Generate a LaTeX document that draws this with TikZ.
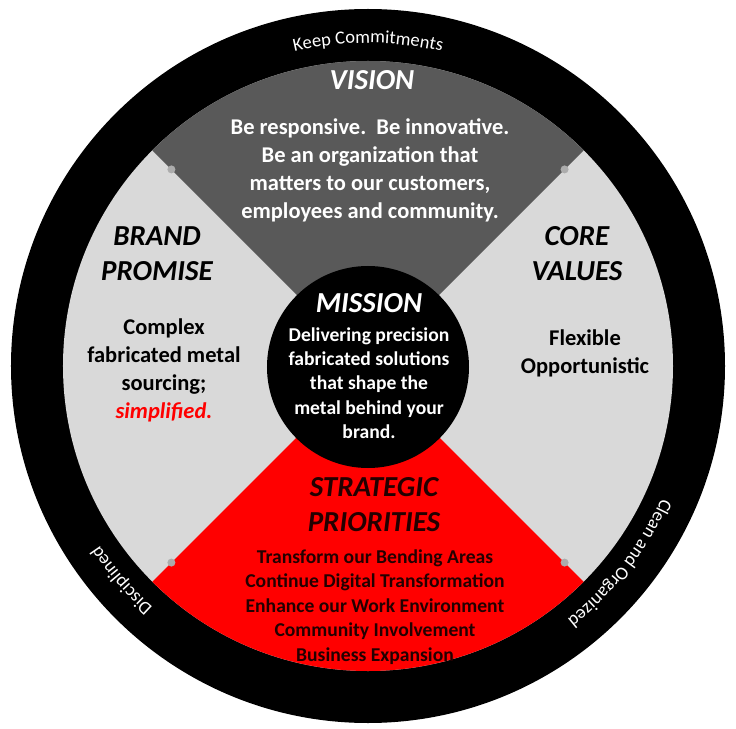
\documentclass[tikz,border=0pt]{standalone}
\usepackage{fontspec}
\setmainfont{Carlito}
\usetikzlibrary{decorations.text}
\definecolor{visiongray}{RGB}{89,89,89}
\definecolor{panelgray}{RGB}{217,217,217}
\definecolor{dotgray}{RGB}{172,172,172}
\definecolor{listdark}{RGB}{35,0,0}
\newcommand{\ringfont}{\fontsize{18.5}{18.5}\selectfont}
\begin{document}
\begin{tikzpicture}[x=1pt,y=1pt,
  heading/.style={font=\fontsize{29}{35}\selectfont\bfseries\itshape,align=center,inner sep=0pt},
  bodytext/.style={font=\fontsize{22.5}{28}\selectfont\bfseries,align=center,inner sep=0pt},
  smalltext/.style={font=\fontsize{19.6}{24.4}\selectfont\bfseries,align=center,inner sep=0pt},
  ringtext/.style={decorate,decoration={text along path,text align=center,text color=white,text={|\ringfont|#1}}}]
\useasboundingbox (-368,-362) rectangle (368,366);
\fill[black] (0,0) circle (357);
\fill[panelgray] (0,0) circle (305);
\fill[visiongray] (0,0) -- (45:305) arc[start angle=45,end angle=135,radius=305] -- cycle;
\fill[red] (0,0) -- (225:305) arc[start angle=225,end angle=315,radius=305] -- cycle;
\foreach \a in {45,135,225,315} {
	\fill[dotgray] (\a:278) circle (4);
}
\fill[black] (0,-1) circle (101);
\path[ringtext={Keep Commitments}] (130:323) arc[start angle=130,end angle=50,radius=323];
\path[ringtext={Disciplined}] (261:323) arc[start angle=261,end angle=181,radius=323];
\path[ringtext={Clean and Organized}] (2:322) arc[start angle=2,end angle=-78,radius=322];
\node[heading,text=white] (vision) at (4,286) {VISION};
\node[bodytext,text=white] (visiontext) at (2,196) {Be responsive.\ \ Be innovative.\\Be an organization that\\matters to our customers,\\employees and community.};
\node[heading] (brand) at (-211,112) {BRAND\\PROMISE};
\node[bodytext] (brandtext) at (-204,-4) {Complex\\fabricated metal\\sourcing;\\\textcolor{red}{\itshape simplified.}};
\node[heading] (core) at (209,112) {CORE\\VALUES};
\node[bodytext] (coretext) at (217,13) {Flexible\\Opportunistic};
\node[heading,text=white] (mission) at (1,63) {MISSION};
\node[smalltext,text=white] (missiontext) at (1,-17) {Delivering precision\\fabricated solutions\\that shape the\\metal behind your\\brand.};
\node[heading,text=listdark] (strategic) at (6,-139) {STRATEGIC\\PRIORITIES};
\node[smalltext,text=listdark] (strategictext) at (7,-241) {Transform our Bending Areas\\Continue Digital Transformation\\Enhance our Work Environment\\Community Involvement\\Business Expansion};
\end{tikzpicture}
\end{document}
